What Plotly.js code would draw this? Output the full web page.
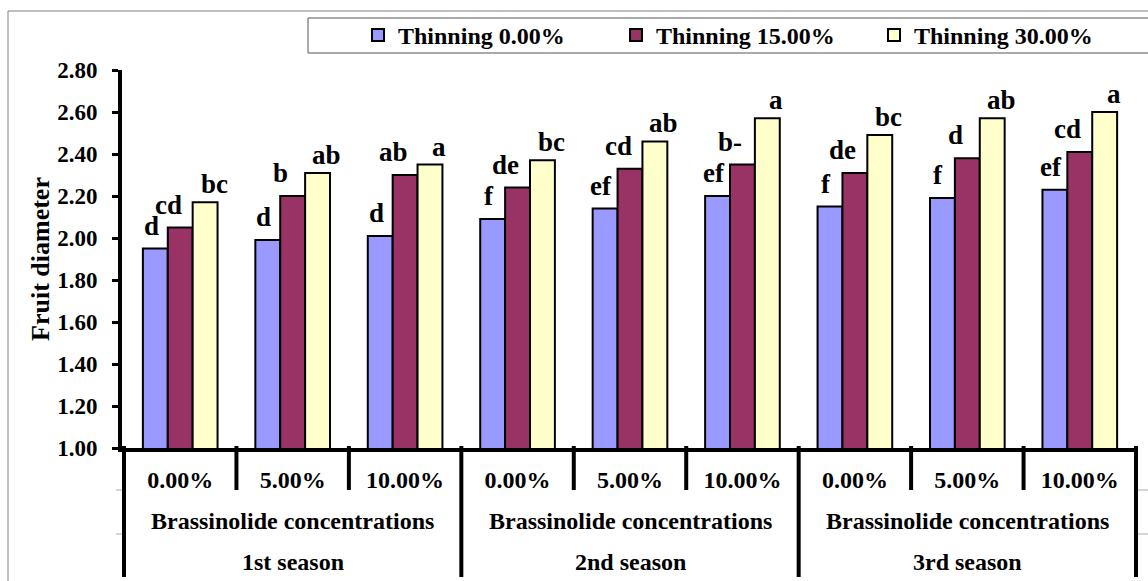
<!DOCTYPE html>
<html>
<head>
<meta charset="utf-8">
<script src="https://cdn.plot.ly/plotly-3.0.1.min.js"></script>
<style>
html,body{margin:0;padding:0;background:#fff;}
#chart{width:1148px;height:581px;}
</style>
</head>
<body>
<div id="chart"></div>
<script>
// ---- data ----
const seasons = ["1st season", "2nd season", "3rd season"];
const concentrations = ["0.00%", "5.00%", "10.00%"];
const groupLabel = "Brassinolide concentrations";
const seriesNames = ["Thinning 0.00%", "Thinning 15.00%", "Thinning 30.00%"];
const thin0  = [1.95, 1.99, 2.01, 2.09, 2.14, 2.20, 2.15, 2.19, 2.23];
const thin15 = [2.05, 2.20, 2.30, 2.24, 2.33, 2.35, 2.31, 2.38, 2.41];
const thin30 = [2.17, 2.31, 2.35, 2.37, 2.46, 2.57, 2.49, 2.57, 2.60];
const letters0  = ["d", "d", "d", "f", "ef", "ef", "f", "f", "ef"];
const letters15 = ["cd", "b", "ab", "de", "cd", "b-", "de", "d", "cd"];
const letters30 = ["bc", "ab", "a", "bc", "ab", "a", "bc", "ab", "a"];
const yTitle = "Fruit diameter";

// ---- build ----
const cats = [];
seasons.forEach(s => concentrations.forEach(c => cats.push(s + " | " + c)));
const tickText = [];
seasons.forEach(() => concentrations.forEach(c => tickText.push(c)));

const colors = ["#9999FF", "#993366", "#FFFFCC"];
const vals = [thin0, thin15, thin30];
const lets = [letters0, letters15, letters30];
const FONT = "Liberation Serif, Times New Roman, serif";
const BARGAP = 0.336;
const barW = (1 - BARGAP) / vals.length;

const traces = vals.map((v, i) => ({
  type: "bar",
  name: seriesNames[i],
  x: cats,
  y: v,
  marker: {color: colors[i], line: {color: "#000", width: 2}},
  hoverinfo: "x+y+name"
}));

// pixel helpers for paper coords
const L = 122, R = 1138, T = 70, B = 448;
const px = x => (x - L) / (R - L);
const py = y => (B - y) / (B - T);

const shapes = [];
// outer border
shapes.push({type: "rect", xref: "paper", yref: "paper", x0: px(8), x1: px(1170), y0: py(600), y1: py(11),
  line: {color: "#808080", width: 1}, fillcolor: "rgba(0,0,0,0)", layer: "below"});
// legend box
shapes.push({type: "rect", xref: "paper", yref: "paper", x0: px(308), x1: px(1170), y0: py(53), y1: py(18),
  line: {color: "#555", width: 1}, fillcolor: "rgba(0,0,0,0)"});
// separators under the category axis
const n = cats.length;
for (let k = 0; k <= n; k++) {
  const major = (k % concentrations.length === 0);
  shapes.push({type: "line", xref: "x", yref: "paper", x0: k - 0.5, x1: k - 0.5,
    y0: py(446), y1: major ? py(577) : py(490), line: {color: "#000", width: 4}});
}
// faint row stubs at the table edges
[490, 534].forEach(yy => {
  shapes.push({type: "line", xref: "paper", yref: "paper", x0: px(116), x1: px(122), y0: py(yy), y1: py(yy), line: {color: "#aaa", width: 1}});
  shapes.push({type: "line", xref: "paper", yref: "paper", x0: px(1138), x1: px(1148), y0: py(yy), y1: py(yy), line: {color: "#aaa", width: 1}});
});

const annotations = [];
// significance letters above the bars (positioned on the axes from the data)
const xShift = [-4, -12, 9];
const yShift = [6, 6, 1];
vals.forEach((v, i) => {
  v.forEach((val, k) => {
    annotations.push({xref: "x", yref: "y", x: k + (i - 1) * barW, y: val, text: lets[i][k],
      showarrow: false, xanchor: "center", yanchor: "bottom", xshift: xShift[i], yshift: yShift[i],
      font: {family: FONT, size: 27, color: "#000", weight: "bold"}});
  });
});
seasons.forEach((s, j) => {
  const mid = j * concentrations.length + (concentrations.length - 1) / 2;
  annotations.push({xref: "x", yref: "paper", x: mid, y: py(521), text: groupLabel, showarrow: false,
    font: {family: FONT, size: 24, color: "#000", weight: "bold"}, yanchor: "middle"});
  annotations.push({xref: "x", yref: "paper", x: mid, y: py(562), text: s, showarrow: false,
    font: {family: FONT, size: 24, color: "#000", weight: "bold"}, yanchor: "middle"});
});

const layout = {
  width: 1148, height: 581,
  margin: {l: L, r: 1148 - R, t: T, b: 581 - B},
  paper_bgcolor: "#fff", plot_bgcolor: "#fff",
  barmode: "group", bargap: BARGAP, bargroupgap: 0,
  showlegend: true,
  legend: {orientation: "h", x: px(358), xanchor: "left", y: py(35.5), yanchor: "middle",
    font: {family: FONT, size: 24, color: "#000", weight: "bold"}, bgcolor: "rgba(0,0,0,0)",
    borderwidth: 0, entrywidth: 213, traceorder: "normal"},
  xaxis: {type: "category", tickvals: cats, ticktext: tickText, ticks: "", showline: true,
    linecolor: "#000", linewidth: 4, showgrid: false, zeroline: false, ticklabelstandoff: 7,
    tickfont: {family: FONT, size: 24, color: "#000", weight: "bold"}, fixedrange: true},
  yaxis: {range: [1.0, 2.8], dtick: 0.2, tick0: 1.0, tickformat: ".2f", ticks: "outside", ticklen: 6,
    tickwidth: 3, tickcolor: "#000", showline: true, linecolor: "#000", linewidth: 4, showgrid: false,
    zeroline: false, ticklabelstandoff: 10,
    tickfont: {family: FONT, size: 23, color: "#000", weight: "bold"},
    title: {text: yTitle, standoff: 1, font: {family: FONT, size: 26, color: "#000", weight: "bold"}}},
  shapes: shapes,
  annotations: annotations
};

Plotly.newPlot("chart", traces, layout, {displayModeBar: false, staticPlot: true});
</script>
</body>
</html>
